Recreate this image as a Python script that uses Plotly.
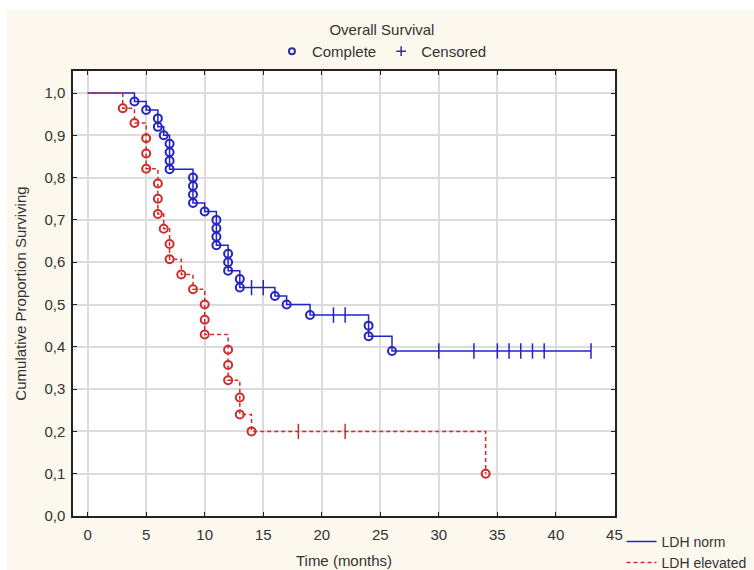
import plotly.graph_objects as go

# Kaplan-Meier estimates, LDH norm group: time of each death and survival after it
norm_event_times = [4, 5, 6, 6, 6.5, 7, 7, 7, 7, 9, 9, 9, 9, 10, 11, 11, 11, 11,
                    12, 12, 12, 13, 13, 16, 17, 19, 24, 24, 26]
norm_event_surv = [0.98, 0.96, 0.94, 0.92, 0.90, 0.88, 0.86, 0.84, 0.82, 0.80,
                   0.78, 0.76, 0.74, 0.72, 0.70, 0.68, 0.66, 0.64, 0.62, 0.60,
                   0.58, 0.56, 0.54, 0.52, 0.50, 0.475, 0.45, 0.425, 0.39]
norm_censor_times = [14, 15, 21, 22, 30, 33, 35, 36, 37, 38, 39, 43]

# LDH elevated group
elev_event_times = [3, 4, 5, 5, 5, 6, 6, 6, 6.5, 7, 7, 8, 9, 10, 10, 10,
                    12, 12, 12, 13, 13, 14, 34]
elev_event_surv = [0.964, 0.929, 0.893, 0.857, 0.821, 0.786, 0.750, 0.714,
                   0.679, 0.643, 0.607, 0.571, 0.536, 0.500, 0.464, 0.429,
                   0.393, 0.357, 0.321, 0.28, 0.24, 0.20, 0.10]
elev_censor_times = [18, 22]

x_ticks = [0, 5, 10, 15, 20, 25, 30, 35, 40, 45]
y_ticks = [0.0, 0.1, 0.2, 0.3, 0.4, 0.5, 0.6, 0.7, 0.8, 0.9, 1.0]

BLUE = "#2424c4"
RED = "#d02c2c"
NAVY = "#30309a"
TEXT = "#333333"
CREAM = "#fcf8ee"
FONT = "Liberation Sans, Arial"
FSIZE = 15


def surv_at(t, times, surv):
    s = 1.0
    for et, es in zip(times, surv):
        if et <= t:
            s = es
    return s


def step_path(times, surv, censors):
    xs = [0] + list(times)
    ys = [1.0] + list(surv)
    end = max(censors + list(times))
    if end > xs[-1]:
        xs.append(end)
        ys.append(ys[-1])
    return xs, ys


fig = go.Figure()

groups = [
    ("LDH norm", norm_event_times, norm_event_surv, norm_censor_times, BLUE, "solid"),
    ("LDH elevated", elev_event_times, elev_event_surv, elev_censor_times, RED, "4px,3px"),
]

for name, et, es, ct, color, dash in groups:
    xs, ys = step_path(et, es, ct)
    fig.add_trace(go.Scatter(
        x=xs, y=ys, mode="lines", line=dict(color=color, width=1.5, dash=dash, shape="hv"),
        name=name, legend="legend2", hoverinfo="skip"))
    fig.add_trace(go.Scatter(
        x=et, y=es, mode="markers",
        marker=dict(symbol="circle-open", size=8, color=color, line=dict(width=2, color=color)),
        showlegend=False, hoverinfo="x+y"))
    fig.add_trace(go.Scatter(
        x=ct, y=[surv_at(t, et, es) for t in ct], mode="markers",
        marker=dict(symbol="line-ns", size=11, color=color, line=dict(width=1.5, color=color)),
        showlegend=False, hoverinfo="x+y"))

# marker key for the top legend
fig.add_trace(go.Scatter(
    x=[None], y=[None], mode="markers", name="Complete",
    marker=dict(symbol="circle-open", size=6, color=NAVY, line=dict(width=2, color=NAVY)),
    legend="legend"))
fig.add_trace(go.Scatter(
    x=[None], y=[None], mode="markers", name="Censored",
    marker=dict(symbol="cross-thin", size=7, color=NAVY, line=dict(width=1.5, color=NAVY)),
    legend="legend"))

axis_common = dict(
    showline=True, linecolor="#222222", linewidth=1.5, mirror="ticks",
    ticks="inside", ticklen=4, tickwidth=1.2, tickcolor="#222222",
    showgrid=True, gridcolor="#dcdcdc", gridwidth=1.5, zeroline=False,
    tickfont=dict(family=FONT, size=FSIZE, color=TEXT),
)

fig.update_xaxes(range=[-1.25, 45.05], tickvals=x_ticks, ticklabelstandoff=4,
                 title=dict(text="Time (months)", font=dict(family=FONT, size=FSIZE, color=TEXT), standoff=14),
                 **axis_common)
fig.update_yaxes(range=[0, 1.052], tickvals=y_ticks, tickformat=".1f", ticklabelstandoff=3,
                 title=dict(text="Cumulative Proportion Surviving", font=dict(family=FONT, size=FSIZE, color=TEXT), standoff=14),
                 **axis_common)

fig.update_layout(
    width=754, height=570,
    margin=dict(l=73, r=139, t=71, b=54, autoexpand=False),
    separators=", ",
    paper_bgcolor="white", plot_bgcolor="white",
    font=dict(family=FONT, size=FSIZE, color=TEXT),
    shapes=[
        dict(type="rect", xref="paper", yref="paper", x0=-0.122, x1=1.26, y0=-0.125, y1=1.138,
             fillcolor=CREAM, line=dict(width=0), layer="below"),
        dict(type="rect", xref="paper", yref="paper", x0=0, x1=1, y0=0, y1=1,
             fillcolor="white", line=dict(width=0), layer="below"),
    ],
    legend=dict(
        orientation="h", x=0.57, xanchor="center", y=1.125, yanchor="top",
        bgcolor="rgba(0,0,0,0)", font=dict(family=FONT, size=FSIZE, color=TEXT),
        title=dict(text="Overall Survival", side="top center", font=dict(family=FONT, size=FSIZE, color=TEXT)),
        itemwidth=30,
    ),
    legend2=dict(
        orientation="v", x=1.012, xanchor="left", y=-0.022, yanchor="top",
        bgcolor="rgba(0,0,0,0)", font=dict(family=FONT, size=14, color=TEXT),
        tracegroupgap=0, itemwidth=30,
    ),
    showlegend=True,
)

fig.write_html("out.html")
